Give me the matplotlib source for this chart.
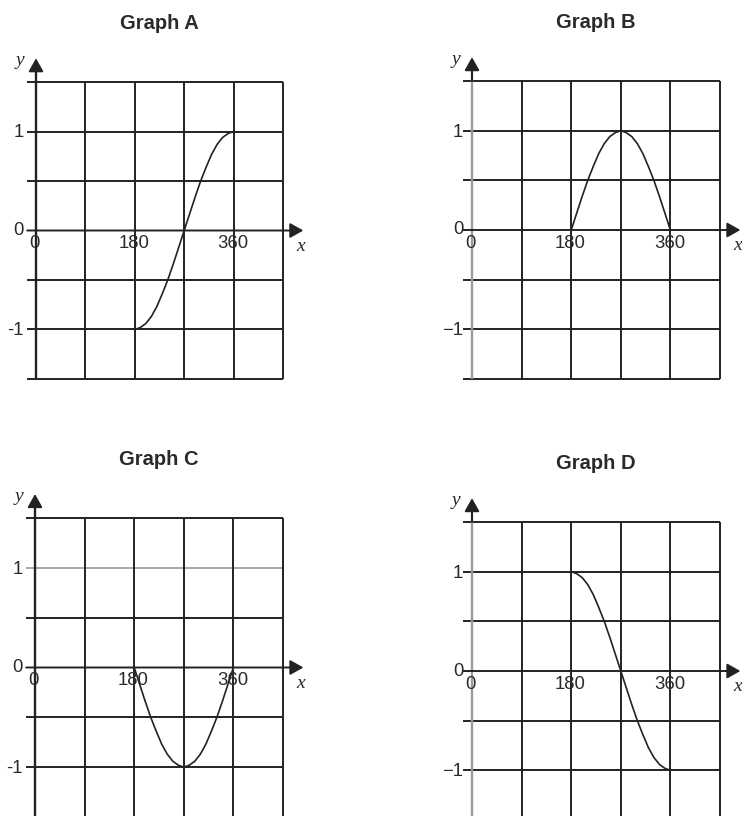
import matplotlib
matplotlib.use("Agg")
import matplotlib.pyplot as plt

# ---- data ----
titles = ["Graph A", "Graph B", "Graph C", "Graph D"]
x_ticks = [0, 180, 360]
x_tick_labels = ["0", "180", "360"]
y_ticks = [1, 0, -1]
y_tick_labels_AC = ["1", "0", "-1"]
y_tick_labels_BD = ["1", "0", "\u22121"]
grid_x = [90, 180, 270, 360, 450]
grid_y = [1.5, 1, 0.5, -0.5, -1, -1.5]

curve_x = [180, 190, 200, 210, 220, 230, 240, 250, 260, 270,
           280, 290, 300, 310, 320, 330, 340, 350, 360]
graph_a_y = [-1.0, -0.98, -0.94, -0.87, -0.77, -0.64, -0.5, -0.34, -0.17, 0.0,
             0.17, 0.34, 0.5, 0.64, 0.77, 0.87, 0.94, 0.98, 1.0]
graph_b_y = [0.0, 0.17, 0.34, 0.5, 0.64, 0.77, 0.87, 0.94, 0.98, 1.0,
             0.98, 0.94, 0.87, 0.77, 0.64, 0.5, 0.34, 0.17, 0.0]
graph_c_y = [0.0, -0.17, -0.34, -0.5, -0.64, -0.77, -0.87, -0.94, -0.98, -1.0,
             -0.98, -0.94, -0.87, -0.77, -0.64, -0.5, -0.34, -0.17, 0.0]
graph_d_y = [1.0, 0.98, 0.94, 0.87, 0.77, 0.64, 0.5, 0.34, 0.17, 0.0,
             -0.17, -0.34, -0.5, -0.64, -0.77, -0.87, -0.94, -0.98, -1.0]

W, H = 742, 816
fig = plt.figure(figsize=(W / 100, H / 100), dpi=100)

DARK = "#222222"
GRAY = "#a8a8a8"
TXT = "#2a2a2a"
LW = 1.4
SANS = "Liberation Sans"
SERIF = "Liberation Serif"
ARROW = "-|>,head_length=0.8,head_width=0.45"


def make_axes(left, top, right, bottom):
    return fig.add_axes([left / W, 1 - bottom / H, (right - left) / W, (bottom - top) / H])


def draw_panel(ax, title, ys, ylabels, label_gap, gray_yaxis=False, gray_row=None):
    ax.set_xlim(0, 450)
    ax.set_ylim(-1.5, 1.5)
    ax.axis("off")
    kw = dict(clip_on=False, solid_capstyle="butt")
    # horizontal grid lines
    for gy in grid_y:
        col = GRAY if (gray_row is not None and gy == gray_row) else DARK
        ax.plot([-16, 450], [gy, gy], color=col, lw=LW, **kw)
    # vertical grid lines
    for gx in grid_x:
        ax.plot([gx, gx], [-1.5, 1.5], color=DARK, lw=LW, **kw)
    # x axis with arrow
    ax.annotate("", xy=(487, 0), xytext=(-16, 0), xycoords="data",
                arrowprops=dict(arrowstyle=ARROW, color=DARK, lw=LW,
                                shrinkA=0, shrinkB=0, mutation_scale=10),
                annotation_clip=False)
    # y axis with arrow
    ycol = "#9a9a9a" if gray_yaxis else DARK
    ax.plot([0, 0], [-1.5, 1.6], color=ycol, lw=LW + 0.3, **kw)
    ax.annotate("", xy=(0, 1.74), xytext=(0, 1.5), xycoords="data",
                arrowprops=dict(arrowstyle=ARROW, color=DARK, lw=LW,
                                shrinkA=0, shrinkB=0, mutation_scale=10),
                annotation_clip=False)
    # curve
    ax.plot(curve_x, ys, color=DARK, lw=1.2, clip_on=False, zorder=3)
    # y tick labels
    for yv, lab in zip(y_ticks, ylabels):
        dy = 0.0 if yv == 0 else -0.015
        ax.text(-label_gap, yv + dy, lab, ha="right", va="center", fontsize=13.3,
                family=SANS, color=TXT)
    # x tick labels
    for xv, lab in zip(x_ticks, x_tick_labels):
        ax.text(xv - 2, -0.05, lab, ha="center", va="top", fontsize=13.3,
                family=SANS, color=TXT)
    # axis letters
    ax.text(-29, 1.72, "y", ha="center", va="center", fontsize=14,
            family=SERIF, style="italic", color=TXT)
    ax.text(482, -0.16, "x", ha="center", va="center", fontsize=14,
            family=SERIF, style="italic", color=TXT)
    # title
    ax.text(225, 2.09, title, ha="center", va="center", fontsize=14.5,
            family=SANS, weight="bold", color=TXT)


axA = make_axes(36, 82, 283, 379)
axB = make_axes(472, 81, 720, 379)
axC = make_axes(35, 518, 283, 817)
axD = make_axes(472, 522, 720, 820)

draw_panel(axA, titles[0], graph_a_y, y_tick_labels_AC, 22)
draw_panel(axB, titles[1], graph_b_y, y_tick_labels_BD, 16, gray_yaxis=True)
draw_panel(axC, titles[2], graph_c_y, y_tick_labels_AC, 22, gray_row=1)
draw_panel(axD, titles[3], graph_d_y, y_tick_labels_BD, 16, gray_yaxis=True)

fig.savefig("out.png", dpi=100, facecolor="white")
